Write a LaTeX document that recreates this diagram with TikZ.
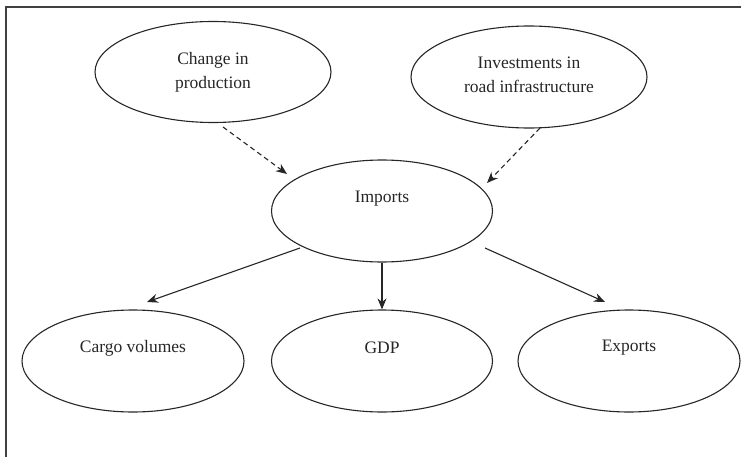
\documentclass[tikz,border=0pt]{standalone}
\usepackage{fontspec}
\setmainfont{Liberation Serif}
\usetikzlibrary{arrows.meta,shapes.geometric}
\begin{document}
\begin{tikzpicture}[x=1pt,y=-1pt,
  oval/.style={draw=black!85,line width=1.1pt,ellipse,inner sep=0pt},
  txt/.style={align=center,font=\fontsize{17.5}{24}\selectfont,text=black!85},
  causal/.style={draw=black!85,line width=1.1pt,-{Stealth[length=11pt,width=9pt]}},
  weak/.style={causal,dash pattern=on 5pt off 3.5pt}]
\useasboundingbox (0,0) rectangle (741,457);
\draw[black!75,line width=1.5pt] (6,457) -- (6,7) -- (741,7);

% upper drivers
\node[oval,minimum width=236pt,minimum height=101pt] (chg) at (213,72) {};
\node[txt] at (chg.center) {Change in\\production};
\node[oval,minimum width=236pt,minimum height=102pt] (inv) at (529,77) {};
\node[txt] at ([yshift=2pt]inv.center) {Investments in\\road infrastructure};

% central node
\node[oval,minimum width=221pt,minimum height=102pt] (imp) at (382,211) {};
\node[txt] at ([yshift=12pt]imp.center) {Imports};

% outcomes
\node[oval,minimum width=222pt,minimum height=102pt] (cargo) at (133,361) {};
\node[txt] at ([yshift=13pt]cargo.center) {Cargo volumes};
\node[oval,minimum width=221pt,minimum height=102pt] (gdp) at (382,361) {};
\node[txt] at ([yshift=13pt]gdp.center) {GDP};
\node[oval,minimum width=222pt,minimum height=102pt] (exp) at (629,361) {};
\node[txt] at ([yshift=13pt]exp.center) {Exports};

% connectors
\draw[weak] ([shift={(10,55)}]chg.center) -- ([shift={(-95,-37)}]imp.center);
\draw[weak] ([shift={(11,51)}]inv.center) -- ([shift={(105,-28)}]imp.center);
\draw[causal] ([shift={(-82,37)}]imp.center) -- ([shift={(14,-59)}]cargo.center);
\draw[causal] (imp.south) -- (gdp.north);
\draw[causal] ([shift={(103,37)}]imp.center) -- ([shift={(-24,-59)}]exp.center);
\end{tikzpicture}
\end{document}
